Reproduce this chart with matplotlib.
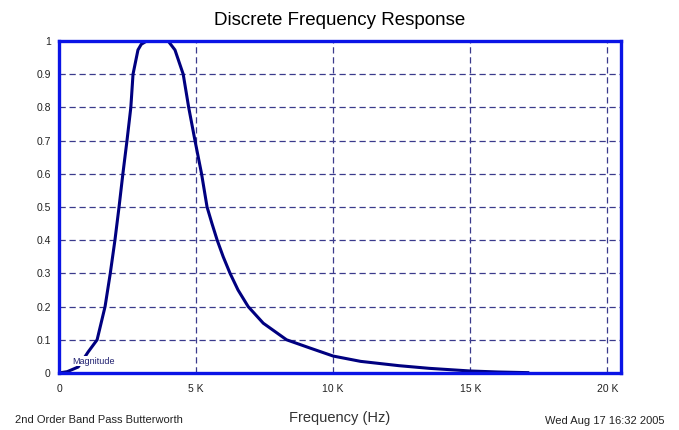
import matplotlib
matplotlib.use("Agg")
import matplotlib.pyplot as plt

# frequency response (Hz, magnitude)
freq = [0, 300, 700, 1060, 1390, 1680, 1870, 2040, 2190, 2330, 2480, 2620,
        2700, 2880, 3000, 3200, 3600, 3980, 4230, 4530, 4730, 4960, 5200,
        5400, 5580, 5770, 5990, 6240, 6530, 6900, 7450, 8300, 9160, 10000,
        11000, 12400, 13500, 15000, 16000, 17100]
mag = [0, 0.004, 0.018, 0.063, 0.1, 0.2, 0.3, 0.4, 0.5, 0.6, 0.7, 0.8,
       0.9, 0.973, 0.99, 1.0, 1.0, 1.0, 0.973, 0.9, 0.8, 0.7, 0.6,
       0.5, 0.45, 0.4, 0.35, 0.3, 0.25, 0.2, 0.15, 0.1, 0.075, 0.051,
       0.035, 0.022, 0.014, 0.006, 0.003, 0.001]

x_ticks = [0, 5000, 10000, 15000, 20000]
x_labels = ["0", "5 K", "10 K", "15 K", "20 K"]
y_ticks = [0, 0.1, 0.2, 0.3, 0.4, 0.5, 0.6, 0.7, 0.8, 0.9, 1]
y_labels = ["0", "0.1", "0.2", "0.3", "0.4", "0.5", "0.6", "0.7", "0.8", "0.9", "1"]

plt.rcParams["font.family"] = ["Liberation Sans", "DejaVu Sans"]

fig = plt.figure(figsize=(6.79, 4.30), dpi=100)
ax = fig.add_axes([0.0869, 0.1326, 0.8277, 0.7721])

ax.plot(freq, mag, color="#000080", linewidth=2.2, zorder=3)
ax.text(1250, 0.036, "Magnitude", fontsize=6.5, color="#202070",
        ha="center", va="center", zorder=4,
        bbox=dict(facecolor="white", edgecolor="none", pad=0.5))

ax.set_xlim(0, 20500)
ax.set_ylim(0, 1)
ax.set_xticks(x_ticks)
ax.set_xticklabels(x_labels)
ax.set_yticks(y_ticks)
ax.set_yticklabels(y_labels)
ax.tick_params(length=0, labelsize=7.5, colors="#222222")
ax.tick_params(axis="x", pad=8)
ax.tick_params(axis="y", pad=6)

ax.grid(True, color="#3a3a8c", linestyle=(0, (5, 3)), linewidth=0.9)
for s in ax.spines.values():
    s.set_color("#0a14e6")
    s.set_linewidth(2.4)
    s.set_zorder(5)

fig.text(0.5, 0.953, "Discrete Frequency Response", fontsize=13.5,
         ha="center", va="center")
fig.text(0.5, 0.028, "Frequency (Hz)", fontsize=10.5, color="#333333",
         ha="center", va="center")
fig.text(0.022, 0.024, "2nd Order Band Pass Butterworth", fontsize=8,
         color="#222222", ha="left", va="center")
fig.text(0.978, 0.02, "Wed Aug 17 16:32 2005", fontsize=8,
         color="#222222", ha="right", va="center")

fig.savefig("out.png", dpi=100)
